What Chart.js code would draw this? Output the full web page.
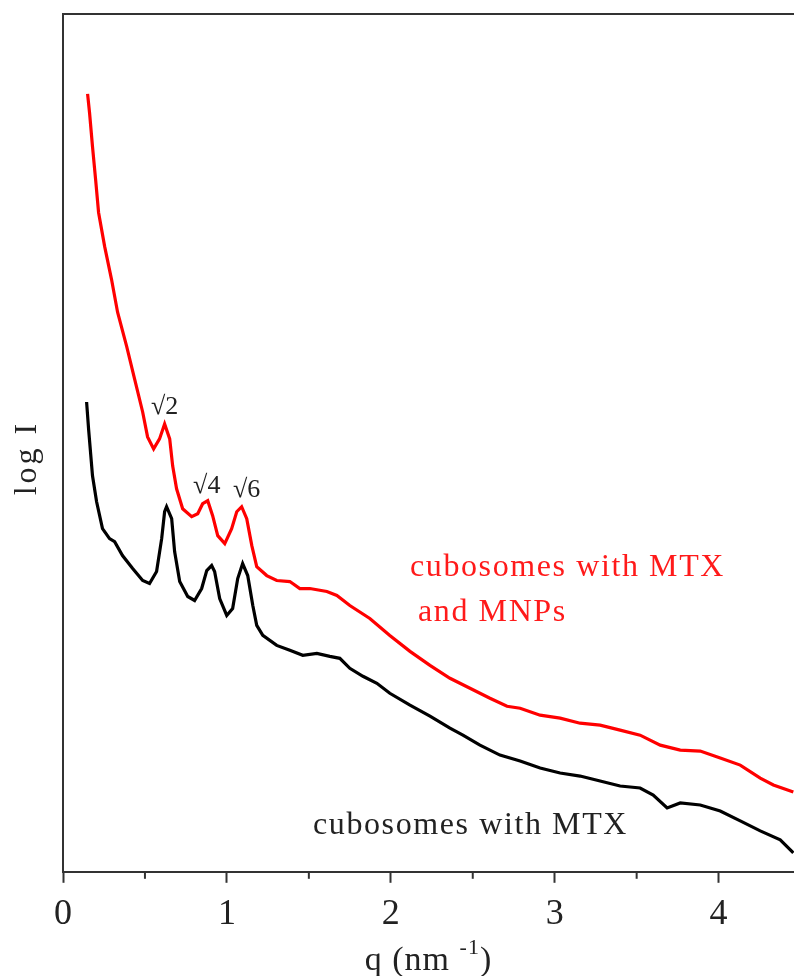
<!DOCTYPE html>
<html>
<head>
<meta charset="utf-8">
<script src="https://cdn.jsdelivr.net/npm/chart.js@4/dist/chart.umd.min.js"></script>
<style>
  html, body { margin: 0; padding: 0; background: #fff; }
  #wrap { width: 794px; height: 976px; position: relative; }
</style>
</head>
<body>
<div id="wrap"><canvas id="saxs_chart"></canvas></div>
<script>
// q in nm^-1, log I in arbitrary units
const qRed = [0.150, 0.162, 0.180, 0.199, 0.217, 0.254, 0.296, 0.333, 0.388, 0.437,
  0.486, 0.516, 0.553, 0.589, 0.620, 0.651, 0.669, 0.693, 0.730, 0.785,
  0.822, 0.852, 0.883, 0.913, 0.944, 0.987, 1.029, 1.060, 1.090, 1.121,
  1.152, 1.182, 1.243, 1.304, 1.384, 1.445, 1.506, 1.610, 1.671, 1.750,
  1.872, 1.994, 2.117, 2.239, 2.361, 2.483, 2.605, 2.709, 2.789, 2.911,
  3.033, 3.155, 3.277, 3.399, 3.521, 3.644, 3.766, 3.888, 4.010, 4.132,
  4.254, 4.334, 4.456];
const logIRed = [78.0, 76.1, 72.7, 69.4, 66.1, 62.7, 59.4, 56.1, 52.7, 49.4,
  46.1, 43.6, 42.4, 43.4, 44.9, 43.4, 40.7, 38.4, 36.4, 35.6,
  35.9, 36.9, 37.2, 35.7, 33.7, 32.9, 34.4, 36.1, 36.6, 35.4,
  32.7, 30.6, 29.7, 29.2, 29.1, 28.4, 28.4, 28.1, 27.7, 26.7,
  25.4, 23.7, 22.1, 20.7, 19.4, 18.4, 17.4, 16.6, 16.4, 15.7,
  15.4, 14.9, 14.7, 14.2, 13.7, 12.7, 12.2, 12.1, 11.4, 10.7,
  9.4, 8.7, 8.0];

const qBlack = [0.144, 0.156, 0.180, 0.205, 0.241, 0.284, 0.315, 0.363, 0.425, 0.486,
  0.528, 0.571, 0.602, 0.620, 0.632, 0.663, 0.681, 0.712, 0.761, 0.803,
  0.846, 0.877, 0.907, 0.925, 0.956, 0.999, 1.035, 1.066, 1.096, 1.127,
  1.158, 1.182, 1.219, 1.304, 1.384, 1.463, 1.549, 1.628, 1.689, 1.750,
  1.830, 1.915, 1.994, 2.117, 2.239, 2.361, 2.440, 2.544, 2.666, 2.789,
  2.911, 3.033, 3.155, 3.277, 3.399, 3.521, 3.601, 3.686, 3.766, 3.888,
  4.010, 4.132, 4.254, 4.376, 4.456];
const logIBlack = [47.1, 44.4, 39.7, 37.1, 34.4, 33.4, 33.1, 31.7, 30.4, 29.2,
  28.9, 30.1, 33.4, 36.1, 36.6, 35.4, 32.1, 29.1, 27.6, 27.2,
  28.4, 30.2, 30.7, 30.1, 27.4, 25.7, 26.4, 29.4, 30.9, 29.7,
  26.7, 24.7, 23.7, 22.7, 22.2, 21.7, 21.9, 21.6, 21.4, 20.4,
  19.6, 18.9, 17.9, 16.7, 15.6, 14.4, 13.7, 12.7, 11.7, 11.1,
  10.4, 9.9, 9.6, 9.1, 8.6, 8.4, 7.7, 6.4, 6.9, 6.7,
  6.1, 5.1, 4.1, 3.2, 1.9];

const xTicks = [0, 1, 2, 3, 4];
const xMinorTicks = [0.5, 1.5, 2.5, 3.5];

// peak labels [text, q, logI]
const peakLabels = [["\u221A2", 0.62, 46.6], ["\u221A4", 0.877, 38.7], ["\u221A6", 1.121, 38.3]];

const SERIF = '"Liberation Serif", "DejaVu Serif", serif';

function pts(xs, ys){
  return xs.map((x, i) => ({x: x, y: ys[i]}));
}

const extras = {
  id: 'extras',
  afterDraw(chart){
    const ctx = chart.ctx;
    const a = chart.chartArea;
    const xs = chart.scales.x;
    const ys = chart.scales.y;
    ctx.save();

    // frame top + left
    ctx.strokeStyle = '#333';
    ctx.lineWidth = 2;
    ctx.beginPath();
    ctx.moveTo(a.left, a.bottom);
    ctx.lineTo(a.left, a.top);
    ctx.lineTo(a.right, a.top);
    ctx.stroke();

    // minor ticks
    xMinorTicks.forEach(v => {
      const px = xs.getPixelForValue(v);
      ctx.beginPath();
      ctx.moveTo(px, a.bottom);
      ctx.lineTo(px, a.bottom + 7);
      ctx.stroke();
    });

    // peak labels
    ctx.fillStyle = '#222';
    ctx.font = '26px ' + SERIF;
    ctx.textAlign = 'center';
    ctx.textBaseline = 'middle';
    peakLabels.forEach(p => {
      ctx.fillText(p[0], xs.getPixelForValue(p[1]), ys.getPixelForValue(p[2]));
    });

    // series labels
    ctx.textAlign = 'left';
    ctx.font = '32px ' + SERIF;
    ctx.letterSpacing = '1.6px';
    ctx.fillStyle = '#ff1a1a';
    ctx.fillText('cubosomes with MTX', 410, 568);
    ctx.fillText('and MNPs', 418, 613);
    ctx.fillStyle = '#222';
    ctx.fillText('cubosomes with MTX', 313, 826);

    // x title with superscript
    ctx.textBaseline = 'alphabetic';
    ctx.letterSpacing = '1px';
    ctx.font = '34px ' + SERIF;
    const t1 = 'q (nm ';
    const t3 = ')';
    const w1 = ctx.measureText(t1).width;
    const w3 = ctx.measureText(t3).width;
    ctx.font = '22px ' + SERIF;
    const t2 = '-1';
    const w2 = ctx.measureText(t2).width;
    let x0 = (a.left + a.right) / 2 - (w1 + w2 + w3) / 2;
    ctx.font = '34px ' + SERIF;
    ctx.fillText(t1, x0, 970);
    ctx.font = '22px ' + SERIF;
    ctx.fillText(t2, x0 + w1, 954);
    ctx.font = '34px ' + SERIF;
    ctx.fillText(t3, x0 + w1 + w2, 970);

    // y title
    ctx.translate(28, 458);
    ctx.rotate(-Math.PI / 2);
    ctx.textAlign = 'center';
    ctx.textBaseline = 'middle';
    ctx.letterSpacing = '3px';
    ctx.font = '32px ' + SERIF;
    ctx.fillText('log I', 0, 0);
    ctx.restore();
  }
};

const ctx = document.getElementById('saxs_chart').getContext('2d');
const saxsChart = new Chart(ctx, {
  type: 'line',
  data: {
    datasets: [
      {
        label: 'cubosomes with MTX and MNPs',
        data: pts(qRed, logIRed),
        borderColor: '#ff0000',
        borderWidth: 3.2,
        pointRadius: 0,
        tension: 0,
        fill: false
      },
      {
        label: 'cubosomes with MTX',
        data: pts(qBlack, logIBlack),
        borderColor: '#000000',
        borderWidth: 3.2,
        pointRadius: 0,
        tension: 0,
        fill: false
      }
    ]
  },
  options: {
    responsive: true,
    maintainAspectRatio: false,
    animation: false,
    layout: { padding: { left: 63, right: 0, top: 14, bottom: 30 } },
    plugins: {
      legend: { display: false },
      tooltip: { enabled: false }
    },
    scales: {
      x: {
        type: 'linear',
        min: 0,
        max: 4.46,
        afterBuildTicks(scale){
          scale.ticks = xTicks.map(v => ({value: v}));
        },
        ticks: {
          autoSkip: false,
          maxRotation: 0,
          padding: 10,
          color: '#222',
          font: { family: SERIF, size: 36 }
        },
        grid: {
          drawOnChartArea: false,
          drawTicks: true,
          tickLength: 11,
          tickWidth: 2,
          tickColor: '#333'
        },
        border: { display: true, color: '#333', width: 2 }
      },
      y: {
        type: 'linear',
        min: 0,
        max: 86,
        display: false
      }
    }
  },
  plugins: [extras]
});
</script>
</body>
</html>
